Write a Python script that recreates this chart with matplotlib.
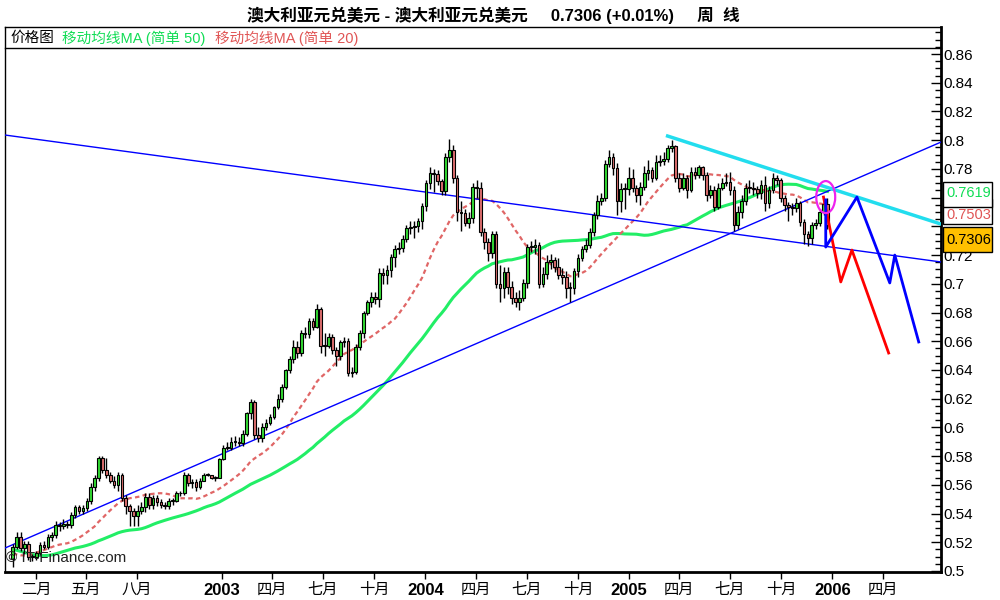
import numpy as np
import pandas as pd
import matplotlib
matplotlib.use("Agg")
import matplotlib.pyplot as plt
import matplotlib.dates as mdates
from matplotlib.patches import Ellipse, Rectangle

plt.rcParams['font.family'] = ['Liberation Sans', 'Noto Sans CJK SC']

# weekly AUD/USD, Dec 2001 - Dec 2005
first_open = 0.5085
closes = [
    0.517, 0.524, 0.516, 0.519, 0.510, 0.510, 0.5125, 0.518, 0.517, 0.524,
    0.525, 0.532, 0.531, 0.533, 0.532, 0.539, 0.5445, 0.542, 0.544, 0.549,
    0.5585, 0.565, 0.579, 0.570, 0.567, 0.563, 0.560, 0.567, 0.551, 0.545,
    0.542, 0.538, 0.542, 0.5445, 0.5515, 0.546, 0.551, 0.548, 0.546, 0.545,
    0.549, 0.549, 0.554, 0.554, 0.567, 0.561, 0.562, 0.5585, 0.563, 0.567,
    0.567, 0.565, 0.565, 0.578, 0.586, 0.586,
    0.590, 0.590, 0.589, 0.5955, 0.610, 0.6177, 0.5947, 0.5926, 0.600, 0.603,
    0.607, 0.614, 0.620, 0.628, 0.640, 0.6476, 0.656, 0.652, 0.6657, 0.665,
    0.674, 0.670, 0.6825, 0.657, 0.657, 0.663, 0.654, 0.650, 0.6595, 0.660,
    0.638, 0.6386, 0.656, 0.6657, 0.6797, 0.6873, 0.691, 0.6894, 0.7075, 0.706,
    0.7096, 0.7187, 0.7242, 0.725, 0.731, 0.739, 0.7396, 0.740, 0.744,
    0.754, 0.770, 0.777, 0.7765, 0.7716, 0.7646, 0.788, 0.793, 0.774, 0.750,
    0.749, 0.742, 0.746, 0.7674, 0.767, 0.736, 0.729, 0.7214, 0.7347, 0.700,
    0.697, 0.708, 0.698, 0.690, 0.6873, 0.690, 0.7006, 0.7256, 0.7256, 0.727,
    0.700, 0.707, 0.715, 0.7166, 0.712, 0.706, 0.7047, 0.697, 0.697, 0.709,
    0.718, 0.724, 0.727, 0.736, 0.748, 0.758, 0.760, 0.7834, 0.788, 0.7806,
    0.758, 0.766, 0.766, 0.774,
    0.7667, 0.762, 0.7674, 0.777, 0.779, 0.7737, 0.7848, 0.7855, 0.787, 0.7946,
    0.796, 0.774, 0.767, 0.7737, 0.765, 0.778, 0.776, 0.781, 0.7757, 0.762,
    0.765, 0.7535, 0.767, 0.770, 0.771, 0.765, 0.741, 0.750, 0.758, 0.767,
    0.767, 0.766, 0.763, 0.769, 0.756, 0.765, 0.774, 0.772, 0.760, 0.755,
    0.7535, 0.7528, 0.756, 0.743, 0.735, 0.732, 0.741, 0.7423, 0.750, 0.7556,
    0.741,
]
highs = [
    0.519, 0.527, 0.527, 0.521, 0.521, 0.512, 0.514, 0.520, 0.521, 0.526,
    0.527, 0.535, 0.534, 0.536, 0.535, 0.541, 0.546, 0.546, 0.546, 0.551,
    0.561, 0.567, 0.580, 0.580, 0.579, 0.569, 0.566, 0.569, 0.568, 0.553,
    0.547, 0.544, 0.546, 0.548, 0.554, 0.554, 0.553, 0.553, 0.550, 0.548,
    0.551, 0.551, 0.556, 0.556, 0.569, 0.568, 0.564, 0.564, 0.565, 0.568,
    0.568, 0.567, 0.566, 0.579, 0.588, 0.590,
    0.593, 0.594, 0.593, 0.598, 0.611, 0.620, 0.619, 0.600, 0.603, 0.606,
    0.609, 0.615, 0.623, 0.630, 0.641, 0.650, 0.661, 0.660, 0.668, 0.670,
    0.676, 0.676, 0.686, 0.684, 0.666, 0.666, 0.665, 0.656, 0.661, 0.663,
    0.662, 0.642, 0.658, 0.668, 0.681, 0.689, 0.694, 0.694, 0.711, 0.711,
    0.713, 0.721, 0.727, 0.729, 0.734, 0.741, 0.744, 0.744, 0.746,
    0.756, 0.772, 0.781, 0.780, 0.779, 0.773, 0.791, 0.801, 0.797, 0.776,
    0.758, 0.752, 0.750, 0.770, 0.772, 0.771, 0.739, 0.732, 0.737, 0.737,
    0.713, 0.712, 0.712, 0.702, 0.694, 0.696, 0.703, 0.728, 0.730, 0.731,
    0.729, 0.712, 0.720, 0.721, 0.719, 0.718, 0.711, 0.709, 0.701, 0.711,
    0.721, 0.726, 0.731, 0.739, 0.750, 0.762, 0.763, 0.786, 0.793, 0.791,
    0.784, 0.770, 0.770, 0.781,
    0.780, 0.769, 0.771, 0.782, 0.786, 0.781, 0.790, 0.790, 0.792, 0.797,
    0.800, 0.797, 0.777, 0.777, 0.776, 0.781, 0.781, 0.783, 0.782, 0.778,
    0.769, 0.768, 0.770, 0.774, 0.777, 0.778, 0.768, 0.754, 0.762, 0.770,
    0.772, 0.771, 0.768, 0.772, 0.775, 0.768, 0.777, 0.776, 0.774, 0.762,
    0.757, 0.756, 0.760, 0.758, 0.745, 0.737, 0.743, 0.745, 0.752, 0.759,
    0.760,
]
lows = [
    0.503, 0.515, 0.514, 0.512, 0.508, 0.507, 0.508, 0.511, 0.515, 0.515,
    0.521, 0.523, 0.528, 0.529, 0.530, 0.530, 0.537, 0.540, 0.540, 0.542,
    0.547, 0.556, 0.563, 0.568, 0.565, 0.561, 0.558, 0.556, 0.549, 0.540,
    0.531, 0.531, 0.531, 0.540, 0.541, 0.543, 0.543, 0.545, 0.544, 0.543,
    0.543, 0.546, 0.548, 0.552, 0.553, 0.559, 0.558, 0.556, 0.557, 0.565,
    0.566, 0.564, 0.563, 0.570, 0.577, 0.584,
    0.584, 0.587, 0.587, 0.587, 0.594, 0.606, 0.592, 0.590, 0.590, 0.598,
    0.602, 0.606, 0.613, 0.618, 0.627, 0.638, 0.645, 0.648, 0.650, 0.662,
    0.662, 0.668, 0.669, 0.652, 0.650, 0.655, 0.651, 0.643, 0.647, 0.656,
    0.636, 0.635, 0.637, 0.654, 0.662, 0.678, 0.684, 0.686, 0.684, 0.700,
    0.700, 0.705, 0.712, 0.721, 0.722, 0.729, 0.735, 0.732, 0.736,
    0.738, 0.751, 0.766, 0.764, 0.769, 0.762, 0.762, 0.785, 0.770, 0.744,
    0.737, 0.740, 0.739, 0.742, 0.760, 0.733, 0.724, 0.716, 0.718, 0.697,
    0.687, 0.690, 0.693, 0.686, 0.684, 0.682, 0.688, 0.697, 0.722, 0.721,
    0.697, 0.698, 0.703, 0.710, 0.708, 0.703, 0.700, 0.690, 0.687, 0.693,
    0.705, 0.716, 0.722, 0.725, 0.733, 0.745, 0.755, 0.758, 0.781, 0.776,
    0.748, 0.750, 0.752, 0.762,
    0.764, 0.757, 0.755, 0.765, 0.772, 0.771, 0.772, 0.782, 0.783, 0.785,
    0.792, 0.771, 0.764, 0.765, 0.760, 0.764, 0.773, 0.774, 0.772, 0.758,
    0.760, 0.751, 0.752, 0.765, 0.768, 0.762, 0.737, 0.738, 0.746, 0.755,
    0.763, 0.762, 0.760, 0.759, 0.751, 0.753, 0.763, 0.769, 0.757, 0.751,
    0.744, 0.748, 0.750, 0.740, 0.728, 0.726, 0.728, 0.738, 0.740, 0.748,
    0.738,
]
# 2001 weekly closes, only used to warm up the moving averages
closes_2001 = [
    0.560, 0.556, 0.552, 0.548, 0.542, 0.536, 0.530, 0.524, 0.515, 0.505,
    0.497, 0.490, 0.488, 0.492, 0.500, 0.508, 0.516, 0.514, 0.512, 0.516,
    0.512, 0.516, 0.520, 0.512, 0.506, 0.504, 0.508, 0.510, 0.514, 0.520,
    0.526, 0.528, 0.522, 0.510, 0.494, 0.492, 0.496, 0.500, 0.502, 0.506,
    0.510, 0.518, 0.522, 0.524, 0.520, 0.516, 0.512, 0.510, 0.508,
]
last_date = '2005-12-23'

# hand-drawn analysis lines
asc_dates = ['2001-12-07', '2006-07-15']
asc_vals = [0.516, 0.7987]
desc_dates = ['2001-12-07', '2006-07-15']
desc_vals = [0.8036, 0.7152]
cyan_dates = ['2005-03-11', '2006-07-15']
cyan_vals = [0.8029, 0.7416]
proj_blue_dates = ['2005-12-20', '2005-12-20', '2006-02-14', '2006-04-14', '2006-04-23', '2006-06-05']
proj_blue_vals = [0.7584, 0.7256, 0.7604, 0.7006, 0.720, 0.6595]
proj_red_dates = ['2005-12-16', '2006-01-16', '2006-02-05', '2006-04-12']
proj_red_vals = [0.7604, 0.7013, 0.7235, 0.6518]
circle_date, circle_val = '2005-12-20', 0.7604

# right axis value tags
ma50_tag, ma20_tag, last_tag = 0.7619, 0.7503, 0.7306

tick_dates = ['2002-02-01', '2002-05-01', '2002-08-01', '2003-01-01', '2003-04-01', '2003-07-01',
              '2003-10-01', '2004-01-01', '2004-04-01', '2004-07-01', '2004-10-01', '2005-01-01',
              '2005-04-01', '2005-07-01', '2005-10-01', '2006-01-01', '2006-04-01']
tick_labels = ['二月', '五月', '八月', '2003', '四月', '七月', '十月', '2004', '四月', '七月', '十月',
               '2005', '四月', '七月', '十月', '2006', '四月']

# ---- derived ----
dates = pd.date_range(end=last_date, periods=len(closes), freq='7D')
x = mdates.date2num(dates.to_pydatetime())
c = np.array(closes)
o = np.array([first_open] + closes[:-1])
h = np.maximum(np.array(highs), np.maximum(o, c))
l = np.minimum(np.array(lows), np.minimum(o, c))

full = pd.Series(closes_2001 + closes)
ma50 = full.rolling(50).mean().to_numpy()[len(closes_2001):]
ma20 = full.rolling(20).mean().to_numpy()[len(closes_2001):]

def dn(ds):
    return mdates.date2num(pd.to_datetime(ds).to_pydatetime())

fig = plt.figure(figsize=(10, 6), dpi=100)
ax = fig.add_axes([0.005, 28 / 600, 0.936, 545 / 600])

px = 1 / 1436  # one pixel in price units
ax.set_ylim(0.5 - px, 0.5 + 544 * px)
ax.set_xlim(dn('2001-12-07'), dn('2006-07-15'))

# moving averages
ax.plot(x, ma50, color='#22ee66', lw=2.2, zorder=2)
ax.plot(x, ma20, color='#e06666', lw=1.6, ls=(0, (2, 1.5)), zorder=2)

# trend lines
ax.plot(dn(asc_dates), asc_vals, color='#0000ff', lw=1, zorder=3)
ax.plot(dn(desc_dates), desc_vals, color='#0000ff', lw=1, zorder=3)
ax.plot(dn(cyan_dates), cyan_vals, color='#22ddee', lw=2.5, zorder=3)

# candles
up = c >= o
ax.vlines(x, l, h, color='black', lw=1, zorder=4)
body_lo = np.minimum(o, c)
body_h = np.maximum(np.abs(c - o), 0.0006)
ax.bar(x[up], body_h[up], bottom=body_lo[up], width=4.8, color='#33dd33',
       edgecolor='black', lw=0.8, zorder=5)
ax.bar(x[~up], body_h[~up], bottom=body_lo[~up], width=4.8, color='#e07070',
       edgecolor='black', lw=0.8, zorder=5)

# projections and circle
ax.plot(dn(proj_red_dates), proj_red_vals, color='#ff0000', lw=2, zorder=6)
ax.plot(dn(proj_blue_dates), proj_blue_vals, color='#0000ff', lw=2, zorder=6)
ax.add_patch(Ellipse((dn(circle_date), circle_val), 34, 0.0223, fill=False,
                     edgecolor='#ee22ee', lw=1.6, zorder=7))

# axes styling
for side in ['left', 'top']:
    ax.spines[side].set_linewidth(1)
for side in ['right', 'bottom']:
    ax.spines[side].set_linewidth(2)
ax.yaxis.tick_right()
major = np.arange(0.5, 0.861, 0.02)
ax.set_yticks(major)
ax.set_yticks(np.arange(0.5, 0.876, 0.005), minor=True)
# 0.76 and 0.74 sit under the value tags, as in the original
ylabels = ['' if round(v, 2) in (0.74, 0.76) else '%g' % round(v, 2) for v in major]
ax.set_yticklabels(ylabels, fontsize=11)
ax.tick_params(axis='y', which='major', direction='in', length=7, width=1, pad=2)
ax.tick_params(axis='y', which='minor', direction='in', length=4, width=1)
ax.set_xticks(dn(tick_dates))
ax.set_xticklabels(tick_labels, fontsize=11)
for t in ax.get_xticklabels():
    if t.get_text().isdigit():
        t.set_fontweight('bold')
        t.set_fontsize(12)
ax.tick_params(axis='x', direction='out', length=5, width=1, pad=3)

# legend strip at top of plot
yb = 1 - 21 / 545
ax.plot([0, 1], [yb, yb], transform=ax.transAxes, color='black', lw=1, clip_on=False)
fig.text(0.010, 1 - 38 / 600, '价格图', fontsize=10.5, va='center', color='black')
fig.text(0.062, 1 - 38 / 600, '移动均线MA (简单 50)', fontsize=10.5, va='center', color='#11dd55')
fig.text(0.215, 1 - 38 / 600, '移动均线MA (简单 20)', fontsize=10.5, va='center', color='#e05555')

# title
fig.text(0.493, 1 - 15 / 600, '澳大利亚元兑美元 - 澳大利亚元兑美元     0.7306 (+0.01%)     周  线',
         fontsize=12, fontweight='bold', ha='center', va='center')

# watermark
ax.text(0.001, 0.012, '© IT-Finance.com', transform=ax.transAxes, fontsize=11,
        color='#222222', ha='left', va='bottom', zorder=8)

# value tags on the right axis
ytr = ax.get_yaxis_transform()
tags = [(ma20_tag, '#e05555', 'white', 9, -3), (ma50_tag, '#11dd55', 'white', 10, 2),
        (last_tag, 'black', '#ffc000', 11, 0)]
for val, tc, fc, z, shift in tags:
    ax.add_patch(Rectangle((1.002, val - 12.5 * px), 0.052, 25 * px, transform=ytr,
                           facecolor=fc, edgecolor='black', lw=1, clip_on=False, zorder=z))
    ax.text(1.006, val + shift * px, '%.4f' % val, transform=ytr, fontsize=10.5, color=tc,
            family='Liberation Sans', va='center', ha='left', clip_on=False, zorder=z)

fig.savefig('out.png', dpi=100)
